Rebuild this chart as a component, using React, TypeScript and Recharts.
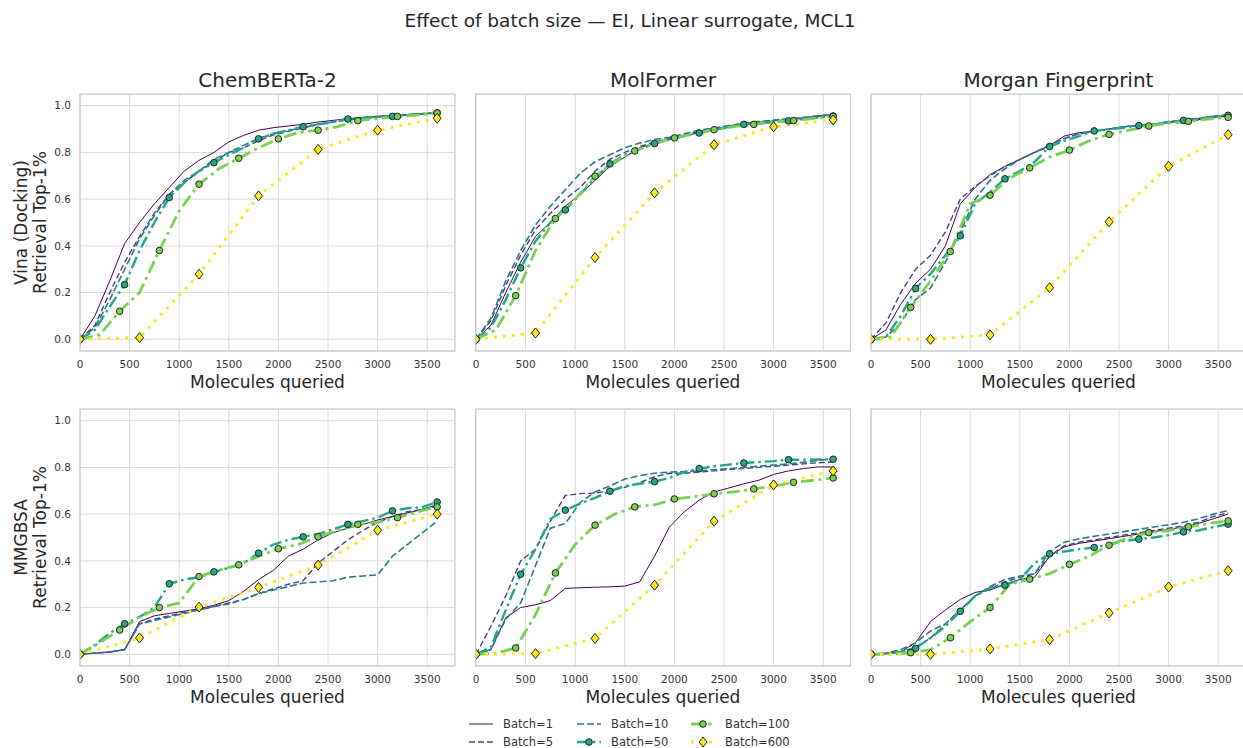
import { CartesianGrid, Line, LineChart, XAxis, YAxis } from "recharts"

// x grids (molecules queried) at which each batch curve is sampled
const X150 = [0, 150, 300, 450, 600, 750, 900, 1050, 1200, 1350, 1500, 1650, 1800, 1950, 2100, 2250, 2400, 2550, 2700, 2850, 3000, 3150, 3300, 3450, 3600]
const X200 = [0, 200, 400, 600, 800, 1000, 1200, 1400, 1600, 1800, 2000, 2200, 2400, 2600, 2800, 3000, 3200, 3400, 3600]
const X600 = [0, 600, 1200, 1800, 2400, 3000, 3600]

const X_TICKS = [0, 500, 1000, 1500, 2000, 2500, 3000, 3500]
const Y_TICKS = [0, 0.2, 0.4, 0.6, 0.8, 1.0]
const MODELS = ["ChemBERTa-2", "MolFormer", "Morgan Fingerprint"]
const ROW_LABELS = [["Vina (Docking)", "Retrieval Top-1%"], ["MMGBSA", "Retrieval Top-1%"]]
const BATCHES = ["Batch=1", "Batch=5", "Batch=10", "Batch=50", "Batch=100", "Batch=600"]

// ChemBERTa-2 / Vina
const CHEM_VINA_B1 = [0, 0.1, 0.25, 0.41, 0.5, 0.58, 0.65, 0.72, 0.766, 0.8, 0.845, 0.873, 0.895, 0.906, 0.913, 0.92, 0.93, 0.937, 0.945, 0.95, 0.955, 0.958, 0.962, 0.966, 0.97]
const CHEM_VINA_B5 = [0, 0.06, 0.2, 0.33, 0.44, 0.54, 0.62, 0.67, 0.72, 0.76, 0.8, 0.82, 0.85, 0.875, 0.89, 0.905, 0.92, 0.93, 0.94, 0.945, 0.952, 0.956, 0.96, 0.965, 0.97]
const CHEM_VINA_B10 = [0, 0.05, 0.17, 0.3, 0.43, 0.53, 0.62, 0.68, 0.72, 0.77, 0.8, 0.83, 0.86, 0.88, 0.895, 0.905, 0.92, 0.93, 0.94, 0.947, 0.952, 0.956, 0.96, 0.965, 0.97]
const CHEM_VINA_B50 = [0, 0.04, 0.14, 0.234, 0.38, 0.5, 0.607, 0.67, 0.72, 0.756, 0.79, 0.82, 0.858, 0.88, 0.895, 0.91, 0.92, 0.93, 0.943, 0.948, 0.952, 0.954, 0.96, 0.965, 0.97]
const CHEM_VINA_B100 = [0, 0.02, 0.12, 0.2, 0.38, 0.55, 0.664, 0.73, 0.775, 0.82, 0.858, 0.885, 0.895, 0.91, 0.936, 0.945, 0.954, 0.96, 0.969]
const CHEM_VINA_B600 = [0, 0.007, 0.279, 0.614, 0.813, 0.895, 0.946]

// MolFormer / Vina
const MOLF_VINA_B1 = [0, 0.06, 0.2, 0.33, 0.44, 0.5, 0.57, 0.62, 0.68, 0.74, 0.78, 0.82, 0.84, 0.855, 0.87, 0.885, 0.9, 0.91, 0.92, 0.928, 0.935, 0.94, 0.945, 0.955, 0.96]
const MOLF_VINA_B5 = [0, 0.08, 0.23, 0.36, 0.47, 0.54, 0.6, 0.65, 0.72, 0.77, 0.8, 0.825, 0.845, 0.86, 0.875, 0.89, 0.9, 0.912, 0.922, 0.93, 0.936, 0.942, 0.948, 0.955, 0.96]
const MOLF_VINA_B10 = [0, 0.09, 0.25, 0.38, 0.49, 0.57, 0.64, 0.71, 0.76, 0.79, 0.82, 0.84, 0.855, 0.865, 0.88, 0.895, 0.905, 0.915, 0.925, 0.932, 0.938, 0.944, 0.95, 0.957, 0.962]
const MOLF_VINA_B50 = [0, 0.05, 0.17, 0.306, 0.42, 0.5, 0.554, 0.62, 0.69, 0.751, 0.79, 0.815, 0.838, 0.855, 0.87, 0.883, 0.895, 0.91, 0.92, 0.925, 0.93, 0.935, 0.942, 0.95, 0.956]
const MOLF_VINA_B100 = [0, 0.04, 0.187, 0.38, 0.517, 0.6, 0.698, 0.76, 0.806, 0.838, 0.862, 0.88, 0.897, 0.91, 0.92, 0.93, 0.936, 0.945, 0.954]
const MOLF_VINA_B600 = [0, 0.027, 0.35, 0.627, 0.833, 0.91, 0.939]

// Morgan Fingerprint / Vina
const MORG_VINA_B1 = [0, 0.04, 0.15, 0.24, 0.3, 0.4, 0.58, 0.65, 0.705, 0.74, 0.77, 0.8, 0.83, 0.87, 0.885, 0.89, 0.9, 0.91, 0.915, 0.92, 0.928, 0.935, 0.94, 0.95, 0.955]
const MORG_VINA_B5 = [0, 0.07, 0.2, 0.3, 0.36, 0.46, 0.6, 0.655, 0.7, 0.74, 0.77, 0.8, 0.825, 0.86, 0.88, 0.89, 0.9, 0.91, 0.915, 0.92, 0.93, 0.94, 0.945, 0.955, 0.96]
const MORG_VINA_B10 = [0, 0.01, 0.07, 0.17, 0.22, 0.33, 0.46, 0.6, 0.68, 0.73, 0.77, 0.8, 0.83, 0.86, 0.88, 0.89, 0.9, 0.91, 0.915, 0.92, 0.93, 0.94, 0.945, 0.955, 0.962]
const MORG_VINA_B50 = [0, 0.01, 0.1, 0.218, 0.28, 0.36, 0.443, 0.58, 0.63, 0.687, 0.72, 0.76, 0.825, 0.85, 0.87, 0.892, 0.9, 0.905, 0.915, 0.92, 0.93, 0.937, 0.94, 0.95, 0.959]
const MORG_VINA_B100 = [0, 0.01, 0.137, 0.25, 0.376, 0.58, 0.617, 0.69, 0.734, 0.78, 0.81, 0.85, 0.877, 0.895, 0.913, 0.925, 0.933, 0.943, 0.95]
const MORG_VINA_B600 = [0, 0, 0.019, 0.221, 0.503, 0.741, 0.876]

// ChemBERTa-2 / MMGBSA
const CHEM_MMGBSA_B1 = [0, 0.005, 0.01, 0.02, 0.14, 0.165, 0.175, 0.185, 0.195, 0.21, 0.23, 0.27, 0.32, 0.36, 0.42, 0.45, 0.49, 0.52, 0.54, 0.555, 0.575, 0.59, 0.605, 0.62, 0.64]
const CHEM_MMGBSA_B5 = [0, 0.005, 0.01, 0.02, 0.13, 0.15, 0.165, 0.18, 0.19, 0.205, 0.22, 0.235, 0.26, 0.28, 0.3, 0.315, 0.39, 0.44, 0.49, 0.53, 0.565, 0.59, 0.61, 0.62, 0.635]
const CHEM_MMGBSA_B10 = [0, 0.005, 0.01, 0.02, 0.13, 0.145, 0.16, 0.175, 0.19, 0.205, 0.215, 0.235, 0.26, 0.275, 0.29, 0.305, 0.31, 0.315, 0.33, 0.335, 0.34, 0.42, 0.47, 0.52, 0.57]
const CHEM_MMGBSA_B50 = [0, 0.04, 0.09, 0.131, 0.16, 0.2, 0.302, 0.32, 0.33, 0.353, 0.37, 0.39, 0.433, 0.47, 0.49, 0.503, 0.515, 0.535, 0.556, 0.57, 0.585, 0.614, 0.625, 0.63, 0.652]
const CHEM_MMGBSA_B100 = [0, 0.05, 0.104, 0.16, 0.2, 0.22, 0.333, 0.36, 0.383, 0.42, 0.452, 0.47, 0.503, 0.53, 0.556, 0.565, 0.585, 0.61, 0.631]
const CHEM_MMGBSA_B600 = [0, 0.07, 0.202, 0.286, 0.382, 0.531, 0.6]

// MolFormer / MMGBSA
const MOLF_MMGBSA_B1 = [0, 0.02, 0.157, 0.2, 0.212, 0.23, 0.282, 0.285, 0.287, 0.289, 0.292, 0.31, 0.42, 0.545, 0.61, 0.66, 0.695, 0.712, 0.73, 0.745, 0.77, 0.785, 0.795, 0.802, 0.802]
const MOLF_MMGBSA_B5 = [0, 0.12, 0.25, 0.4, 0.45, 0.57, 0.68, 0.688, 0.69, 0.7, 0.715, 0.735, 0.76, 0.775, 0.775, 0.78, 0.785, 0.792, 0.795, 0.8, 0.805, 0.81, 0.815, 0.82, 0.823]
const MOLF_MMGBSA_B10 = [0, 0.02, 0.15, 0.22, 0.38, 0.54, 0.56, 0.65, 0.695, 0.72, 0.75, 0.765, 0.775, 0.78, 0.782, 0.785, 0.79, 0.795, 0.8, 0.805, 0.81, 0.815, 0.822, 0.83, 0.838]
const MOLF_MMGBSA_B50 = [0, 0.03, 0.19, 0.343, 0.45, 0.58, 0.617, 0.645, 0.67, 0.698, 0.72, 0.73, 0.739, 0.755, 0.78, 0.795, 0.805, 0.812, 0.819, 0.823, 0.827, 0.833, 0.833, 0.834, 0.835]
const MOLF_MMGBSA_B100 = [0, 0.005, 0.027, 0.17, 0.348, 0.47, 0.553, 0.6, 0.631, 0.64, 0.665, 0.675, 0.687, 0.695, 0.708, 0.72, 0.736, 0.745, 0.755]
const MOLF_MMGBSA_B600 = [0, 0.003, 0.068, 0.296, 0.57, 0.725, 0.785]

// Morgan Fingerprint / MMGBSA
const MORG_MMGBSA_B1 = [0, 0.002, 0.01, 0.05, 0.14, 0.19, 0.235, 0.265, 0.275, 0.3, 0.32, 0.33, 0.42, 0.46, 0.475, 0.485, 0.495, 0.505, 0.515, 0.525, 0.535, 0.545, 0.56, 0.58, 0.6]
const MORG_MMGBSA_B5 = [0, 0.003, 0.01, 0.03, 0.07, 0.13, 0.19, 0.25, 0.28, 0.31, 0.33, 0.345, 0.42, 0.465, 0.48, 0.49, 0.5, 0.51, 0.52, 0.53, 0.54, 0.55, 0.565, 0.59, 0.605]
const MORG_MMGBSA_B10 = [0, 0.005, 0.02, 0.05, 0.1, 0.13, 0.19, 0.25, 0.29, 0.32, 0.335, 0.345, 0.44, 0.48, 0.495, 0.505, 0.515, 0.525, 0.535, 0.545, 0.555, 0.565, 0.58, 0.6, 0.615]
const MORG_MMGBSA_B50 = [0, 0.003, 0.01, 0.026, 0.07, 0.12, 0.184, 0.25, 0.285, 0.296, 0.32, 0.39, 0.43, 0.44, 0.45, 0.457, 0.47, 0.485, 0.493, 0.5, 0.51, 0.524, 0.53, 0.545, 0.557]
const MORG_MMGBSA_B100 = [0, 0, 0.007, 0.02, 0.071, 0.14, 0.2, 0.3, 0.322, 0.345, 0.385, 0.42, 0.467, 0.5, 0.521, 0.53, 0.546, 0.56, 0.571]
const MORG_MMGBSA_B600 = [0, 0, 0.023, 0.063, 0.177, 0.288, 0.358]

const PANELS = [
  [CHEM_VINA_B1, CHEM_VINA_B5, CHEM_VINA_B10, CHEM_VINA_B50, CHEM_VINA_B100, CHEM_VINA_B600],
  [MOLF_VINA_B1, MOLF_VINA_B5, MOLF_VINA_B10, MOLF_VINA_B50, MOLF_VINA_B100, MOLF_VINA_B600],
  [MORG_VINA_B1, MORG_VINA_B5, MORG_VINA_B10, MORG_VINA_B50, MORG_VINA_B100, MORG_VINA_B600],
  [CHEM_MMGBSA_B1, CHEM_MMGBSA_B5, CHEM_MMGBSA_B10, CHEM_MMGBSA_B50, CHEM_MMGBSA_B100, CHEM_MMGBSA_B600],
  [MOLF_MMGBSA_B1, MOLF_MMGBSA_B5, MOLF_MMGBSA_B10, MOLF_MMGBSA_B50, MOLF_MMGBSA_B100, MOLF_MMGBSA_B600],
  [MORG_MMGBSA_B1, MORG_MMGBSA_B5, MORG_MMGBSA_B10, MORG_MMGBSA_B50, MORG_MMGBSA_B100, MORG_MMGBSA_B600],
]

// viridis, one colour per batch size
const COLORS = ["#440154", "#414487", "#2a788e", "#22a884", "#7ad151", "#fde725"]
const GRIDS = [X150, X150, X150, X150, X200, X600]
const WIDTHS = [1, 1.4, 1.6, 2.4, 2.8, 3]
const DASHES = [undefined, "6 3", "7 3", "12 4 2.5 4", "13 4.5 3 4.5", "3 6"]
const MARK_EVERY = [0, 0, 0, 450, 400, 600]

const PLOT_LEFT = [80, 475.5, 871]
const PLOT_TOP = [94, 409]
const PLOT_W = 375
const PLOT_H = 257
const Y_AXIS_W = 40
const X_AXIS_H = 30
const FONT = "DejaVu Sans, sans-serif"

function buildRows(series: number[][]) {
  const map = new Map<number, any>()
  series.forEach((vals, s) => {
    GRIDS[s].forEach((x, i) => {
      const row = map.get(x) ?? { x }
      row["s" + s] = vals[i]
      map.set(x, row)
    })
  })
  return [...map.values()].sort((a, b) => a.x - b.x)
}

function Marker({ s, cx, cy }: { s: number; cx: number; cy: number }) {
  if (s === 5) {
    return (
      <path
        d={`M${cx},${cy - 5} L${cx + 4},${cy} L${cx},${cy + 5} L${cx - 4},${cy} Z`}
        fill={COLORS[s]}
        stroke="#222"
        strokeWidth={1}
      />
    )
  }
  return <circle cx={cx} cy={cy} r={3.3} fill={COLORS[s]} stroke="#222" strokeWidth={1} />
}

const makeDot = (s: number) => (p: any) => {
  const every = MARK_EVERY[s]
  if (!every || p.value == null || p.cy == null || p.payload.x % every !== 0) {
    return <g key={`d-${s}-${p.index}`} />
  }
  return (
    <g key={`d-${s}-${p.index}`}>
      <Marker s={s} cx={p.cx} cy={p.cy} />
    </g>
  )
}

function Panel({ idx }: { idx: number }) {
  const row = Math.floor(idx / 3)
  const col = idx % 3
  const data = buildRows(PANELS[idx])
  return (
    <div
      style={{
        position: "absolute",
        left: PLOT_LEFT[col] - Y_AXIS_W,
        top: PLOT_TOP[row],
      }}
    >
      <LineChart
        width={PLOT_W + Y_AXIS_W}
        height={PLOT_H + X_AXIS_H}
        data={data}
        margin={{ top: 0, right: 0, bottom: 0, left: 0 }}
      >
        <CartesianGrid stroke="#d9d9d9" strokeWidth={1} />
        <XAxis
          type="number"
          dataKey="x"
          domain={[0, 3780]}
          ticks={X_TICKS}
          allowDataOverflow
          height={X_AXIS_H}
          tickLine={false}
          axisLine={false}
          tickMargin={4}
          tick={{ fontSize: 10.5, fill: "#333", fontFamily: FONT }}
        />
        <YAxis
          type="number"
          domain={[-0.05, 1.05]}
          ticks={Y_TICKS}
          allowDataOverflow
          width={Y_AXIS_W}
          tickLine={false}
          axisLine={false}
          tickMargin={3}
          tickFormatter={(v) => v.toFixed(1)}
          tick={col === 0 ? { fontSize: 10.5, fill: "#333", fontFamily: FONT } : false}
        />
        {PANELS[idx].map((_, s) => (
          <Line
            key={s}
            type="linear"
            dataKey={"s" + s}
            stroke={COLORS[s]}
            strokeWidth={WIDTHS[s]}
            strokeDasharray={DASHES[s]}
            connectNulls
            dot={makeDot(s)}
            activeDot={false}
            isAnimationActive={false}
          />
        ))}
      </LineChart>
    </div>
  )
}

function LegendItem({ s, x, y }: { s: number; x: number; y: number }) {
  return (
    <g>
      <line x1={x} y1={y} x2={x + 24} y2={y} stroke={COLORS[s]} strokeWidth={WIDTHS[s]} strokeDasharray={DASHES[s]} />
      {MARK_EVERY[s] ? <Marker s={s} cx={x + 12} cy={y} /> : null}
      <text x={x + 34} y={y} fontSize={11.5} fill="#333" dominantBaseline="central" fontFamily={FONT}>
        {BATCHES[s]}
      </text>
    </g>
  )
}

export default function App() {
  const legendX = [469, 577, 691]
  const legendY = [724, 742]
  return (
    <div style={{ position: "absolute", left: 0, top: 0, width: 1243, height: 748, background: "#fff", overflow: "hidden" }}>
      {PANELS.map((_, i) => (
        <Panel key={i} idx={i} />
      ))}
      <svg width={1243} height={748} style={{ position: "absolute", left: 0, top: 0, pointerEvents: "none" }} fontFamily={FONT}>
        <text x={630} y={20} fontSize={18.5} fill="#262626" textAnchor="middle" dominantBaseline="central">
          Effect of batch size — EI, Linear surrogate, MCL1
        </text>
        {MODELS.map((m, c) => (
          <text key={m} x={PLOT_LEFT[c] + PLOT_W / 2} y={80} fontSize={20} fill="#262626" textAnchor="middle" dominantBaseline="central">
            {m}
          </text>
        ))}
        {PLOT_TOP.map((top, r) =>
          PLOT_LEFT.map((left, c) => (
            <g key={`${r}-${c}`}>
              <rect x={left} y={top} width={PLOT_W} height={PLOT_H} fill="none" stroke="#cccccc" strokeWidth={1.2} />
              <text x={left + PLOT_W / 2} y={top + PLOT_H + 31} fontSize={17} fill="#262626" textAnchor="middle" dominantBaseline="central">
                Molecules queried
              </text>
            </g>
          ))
        )}
        {ROW_LABELS.map((lines, r) => {
          const cy = PLOT_TOP[r] + PLOT_H / 2
          return lines.map((t, k) => (
            <text
              key={`${r}-${k}`}
              transform={`translate(${21 + k * 19}, ${cy}) rotate(-90)`}
              fontSize={17}
              fill="#262626"
              textAnchor="middle"
              dominantBaseline="central"
            >
              {t}
            </text>
          ))
        })}
        {BATCHES.map((_, s) => (
          <LegendItem key={s} s={s} x={legendX[Math.floor(s / 2)]} y={legendY[s % 2]} />
        ))}
      </svg>
    </div>
  )
}
